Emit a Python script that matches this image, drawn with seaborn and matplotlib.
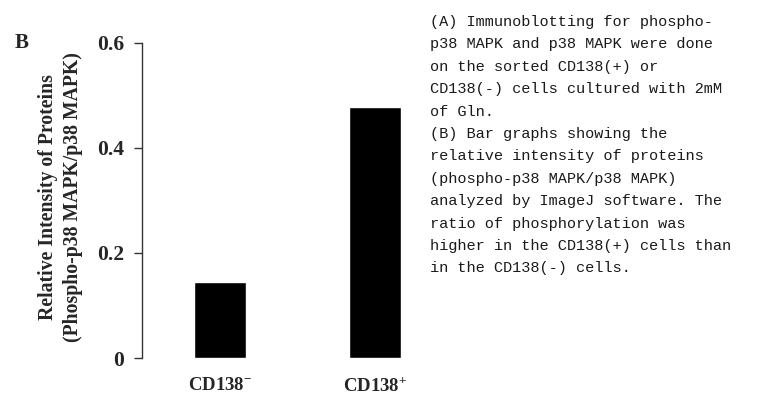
import matplotlib
matplotlib.use("Agg")
import matplotlib.pyplot as plt
import seaborn as sns
import pandas as pd

categories = ["CD138-", "CD138+"]
values = [0.145, 0.478]
tick_labels = [r"CD138$^{-}$", r"CD138$^{+}$"]
yticks = [0, 0.2, 0.4, 0.6]
ytick_labels = ["0", "0.2", "0.4", "0.6"]
ylabel = "Relative Intensity of Proteins\n(Phospho-p38 MAPK/p38 MAPK)"
panel_label = "B"
caption_lines = [
    "(A) Immunoblotting for phospho-",
    "p38 MAPK and p38 MAPK were done",
    "on the sorted CD138(+) or",
    "CD138(-) cells cultured with 2mM",
    "of Gln.",
    "(B) Bar graphs showing the",
    "relative intensity of proteins",
    "(phospho-p38 MAPK/p38 MAPK)",
    "analyzed by ImageJ software. The",
    "ratio of phosphorylation was",
    "higher in the CD138(+) cells than",
    "in the CD138(-) cells.",
]

sns.set_style("white")
plt.rcParams["font.family"] = ["Liberation Serif", "DejaVu Serif"]
plt.rcParams["mathtext.fontset"] = "custom"
plt.rcParams["mathtext.rm"] = "Liberation Serif:bold"
plt.rcParams["mathtext.it"] = "Liberation Serif:bold"
plt.rcParams["mathtext.bf"] = "Liberation Serif:bold"

df = pd.DataFrame({"cat": categories, "val": values})

fig = plt.figure(figsize=(7.57, 3.95), dpi=100)
ax = fig.add_axes([142 / 757, 1 - 358 / 395, 280 / 757, 315 / 395])
sns.barplot(data=df, x="cat", y="val", order=categories, color="black",
            saturation=1, width=0.334, ax=ax, errorbar=None)
ax.set_xlim(-0.5, 1.3)
ax.set_ylim(0, 0.6)
ax.set_yticks(yticks)
ax.set_yticklabels(ytick_labels, fontsize=15.5, fontweight="bold")
ax.set_xticks([0, 1])
ax.set_xticklabels(tick_labels, fontsize=13.5, fontweight="bold")
ax.tick_params(axis="x", length=0, pad=14)
ax.tick_params(axis="y", direction="out", length=6, width=1, color="#333333", pad=7, left=True)
for s in ["top", "right", "bottom"]:
    ax.spines[s].set_visible(False)
ax.spines["left"].set_color("#333333")
ax.spines["left"].set_linewidth(1)
ax.set_xlabel("")
ax.set_ylabel(ylabel, fontsize=14.2, fontweight="bold", linespacing=1.35)
ax.yaxis.set_label_coords(-0.21, 0.51)

fig.text(22 / 757, 1 - 43 / 395, panel_label, fontsize=15, fontweight="bold",
         ha="center", va="center")

for i, line in enumerate(caption_lines):
    y = 22 + i * 22.4
    fig.text(430 / 757, 1 - y / 395, line, fontsize=11, family="Liberation Mono",
             ha="left", va="center", color="#1a1a1a")

fig.savefig("out.png", dpi=100)
